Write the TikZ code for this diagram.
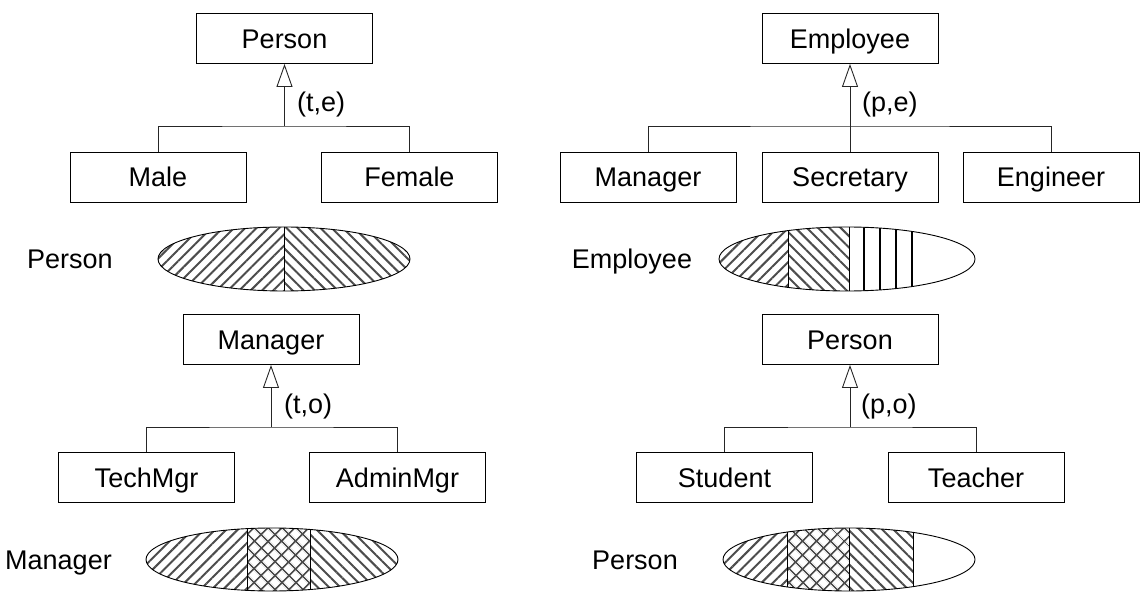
\documentclass[tikz,border=0pt]{standalone}
\usepackage{fontspec}
\setmainfont{Liberation Sans}
\usetikzlibrary{arrows.meta,patterns.meta}
\begin{document}
\begin{tikzpicture}[x=1pt,y=-1pt,
  box/.style={draw, line width=0.9pt, minimum width=176pt, minimum height=50pt, inner sep=0pt, text height=19.4pt, text depth=0pt, font=\fontsize{27}{32}\selectfont},
  txt/.style={font=\fontsize{27}{32}\selectfont, inner sep=0pt, text height=19.4pt, text depth=0pt},
  conn/.style={line width=0.9pt, draw=black!85},
  isa/.style={line width=0.9pt, draw=black!85, -{Triangle[open,length=23pt,width=16pt,line width=0.9pt]}},
  outl/.style={line width=0.9pt},
  ne/.style={pattern={Lines[angle=45,distance=8pt,line width=2pt]}, pattern color=black!70},
  nw/.style={pattern={Lines[angle=-45,distance=8pt,line width=2pt]}, pattern color=black!70},
  vl/.style={pattern={Lines[angle=90,distance=16pt,line width=1.8pt]}, pattern color=black},
  xh/.style={pattern={Hatch[angle=45,distance=10.5pt,line width=2pt]}, pattern color=black!70}
]
\useasboundingbox (0,0) rectangle (1145,609);

% ---------- top left ----------
\node[box] (p1) at (284.5,38.5) {Person};
\node[box] (male) at (158,177) {Male};
\node[box] (female) at (409.5,177) {Female};
\coordinate (j1) at (284.5,126);
\draw[conn] (male.north) |- (j1) -| (female.north);
\draw[isa] (j1) -- (p1.south);
\node[txt, anchor=west] (l1) at (297,102) {(t,e)};

% ---------- top right ----------
\node[box] (emp) at (850,38.5) {Employee};
\node[box] (mgr) at (648,177) {Manager};
\node[box] (sec) at (850,177) {Secretary};
\node[box] (eng) at (1051,177) {Engineer};
\coordinate (j2) at (850,126);
\draw[conn] (mgr.north) |- (j2) -| (eng.north);
\draw[isa] (sec.north) -- (emp.south);
\node[txt, anchor=west] (l2) at (862,102) {(p,e)};

% ---------- bottom left ----------
\node[box] (m3) at (271,339.5) {Manager};
\node[box] (tech) at (146.5,477.5) {TechMgr};
\node[box] (admin) at (397.5,477.5) {AdminMgr};
\coordinate (j3) at (271,427);
\draw[conn] (tech.north) |- (j3) -| (admin.north);
\draw[isa] (j3) -- (m3.south);
\node[txt, anchor=west] (l3) at (284,404) {(t,o)};

% ---------- bottom right ----------
\node[box] (p4) at (850,339.5) {Person};
\node[box] (stu) at (724.5,477.5) {Student};
\node[box] (tea) at (976,477.5) {Teacher};
\coordinate (j4) at (850,427);
\draw[conn] (stu.north) |- (j4) -| (tea.north);
\draw[isa] (j4) -- (p4.south);
\node[txt, anchor=west] (l4) at (861,404) {(p,o)};

% ---------- ellipse 1: Person ----------
\node[txt] (e1lab) at (70,259) {Person};
\begin{scope}
  \clip (284,259) ellipse [x radius=126pt, y radius=32pt];
  \fill[ne] (158,227) rectangle (284,291);
  \fill[nw] (284,227) rectangle (410,291);
  \draw[outl] (284,227) -- (284,291);
\end{scope}
\draw[outl] (284,259) ellipse [x radius=126pt, y radius=32pt];

% ---------- ellipse 2: Employee ----------
\node[txt] (e2lab) at (632,259) {Employee};
\begin{scope}
  \clip (847,259) ellipse [x radius=128pt, y radius=32pt];
  \fill[ne] (719,227) rectangle (788,291);
  \fill[nw] (788,227) rectangle (849,291);
  \fill[vl] (849,227) rectangle (912,291);
  \draw[outl] (788,227) -- (788,291);
  \draw[outl] (849,227) -- (849,291);
  \draw[line width=1.8pt] (912,227) -- (912,291);
\end{scope}
\draw[outl] (847,259) ellipse [x radius=128pt, y radius=32pt];

% ---------- ellipse 3: Manager ----------
\node[txt] (e3lab) at (58.5,559.5) {Manager};
\begin{scope}
  \clip (272,559.5) ellipse [x radius=126pt, y radius=31.5pt];
  \fill[ne] (146,528) rectangle (247,591);
  \fill[xh] (247,528) rectangle (310,591);
  \fill[nw] (310,528) rectangle (398,591);
  \draw[outl] (247,528) -- (247,591);
  \draw[outl] (310,528) -- (310,591);
\end{scope}
\draw[outl] (272,559.5) ellipse [x radius=126pt, y radius=31.5pt];

% ---------- ellipse 4: Person ----------
\node[txt] (e4lab) at (635,559.5) {Person};
\begin{scope}
  \clip (849,559.5) ellipse [x radius=126pt, y radius=31.5pt];
  \fill[ne] (723,528) rectangle (787,591);
  \fill[xh] (787,528) rectangle (849,591);
  \fill[nw] (849,528) rectangle (913,591);
  \draw[outl] (787,528) -- (787,591);
  \draw[outl] (849,528) -- (849,591);
  \draw[outl] (913,528) -- (913,591);
\end{scope}
\draw[outl] (849,559.5) ellipse [x radius=126pt, y radius=31.5pt];
\end{tikzpicture}
\end{document}
